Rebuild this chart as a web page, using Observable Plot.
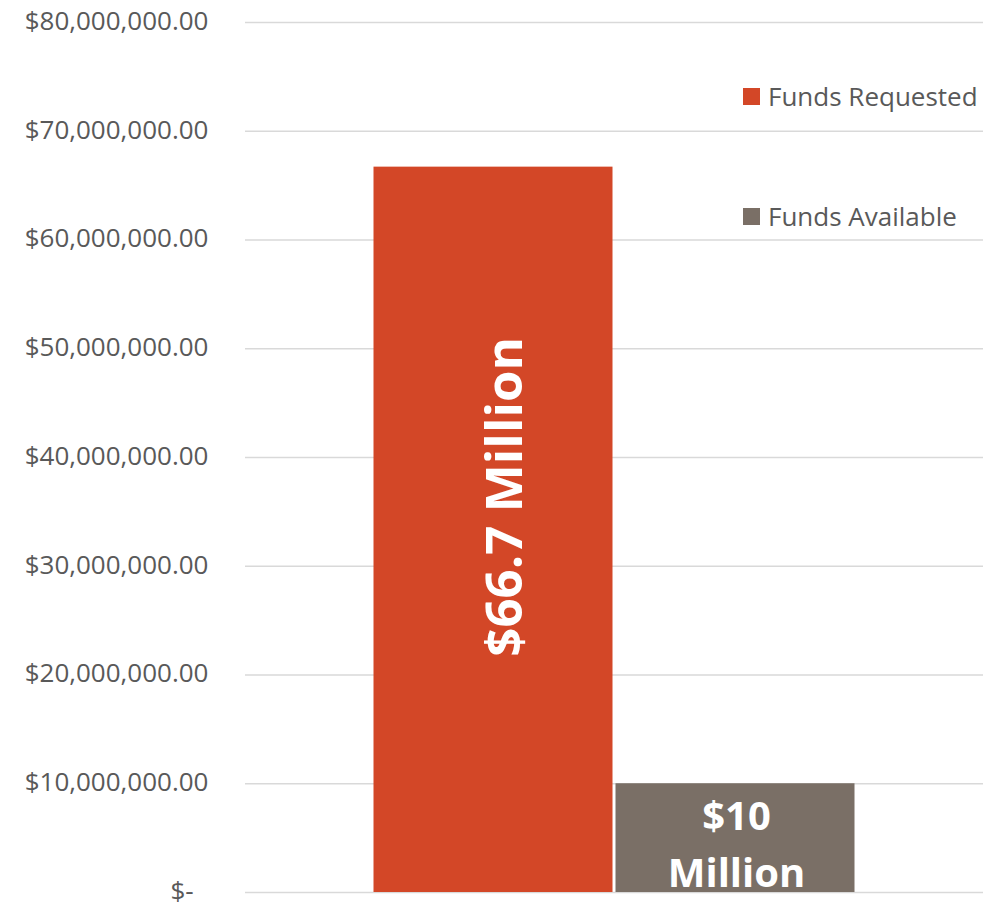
<!DOCTYPE html>
<html>
<head>
<meta charset="utf-8">
<script src="https://cdn.jsdelivr.net/npm/d3@7"></script>
<script src="https://cdn.jsdelivr.net/npm/@observablehq/plot@0.6"></script>
<style>
  html, body { margin: 0; padding: 0; background: #fff; }
  #wrap { position: relative; width: 1007px; height: 906px; font-family: "Open Sans", sans-serif; }
  .leg { position: absolute; left: 743px; display: flex; align-items: center; font-size: 26px; color: #595959; white-space: nowrap; }
  .leg i { display: inline-block; width: 17px; height: 17px; margin-right: 8px; }
</style>
</head>
<body>
<div id="wrap"></div>
<script>
const categories = ["Funds Requested", "Funds Available"];
const values = [66700000, 10000000];
const labels = ["$66.7 Million", "$10\nMillion"];
const colors = ["#D34727", "#7A6F66"];
const yTicks = [0, 10000000, 20000000, 30000000, 40000000, 50000000, 60000000, 70000000, 80000000];

const data = categories.map((c, i) => ({category: c, value: values[i], label: labels[i]}));

const fmt = v => v === 0 ? "$-\u2007" : "$" + d3.format(",.2f")(v);

const chart = Plot.plot({
  width: 1007,
  height: 906,
  marginLeft: 245,
  marginRight: 24,
  marginTop: 22,
  marginBottom: 14,
  style: {fontFamily: "Open Sans, sans-serif", background: "#fff", overflow: "visible"},
  x: {type: "band", domain: categories, range: [371, 856], padding: 0, axis: null},
  y: {domain: [0, 80000000], ticks: yTicks, label: null},
  color: {domain: categories, range: colors},
  marks: [
    Plot.ruleY(yTicks, {stroke: "#d9d9d9", strokeWidth: 1.6}),
    Plot.axisY({ticks: yTicks, tickFormat: fmt, tickSize: 0, tickPadding: 37, fontSize: 26, color: "#595959", label: null, dy: -1}),
    Plot.barY(data, {x: "category", y: "value", fill: "category", insetLeft: 1.5, insetRight: 1.5}),
    Plot.text(data.slice(0, 1), {x: "category", y: d => d.value / 2, text: "label", rotate: -90, fill: "white", fontSize: 51, fontWeight: "bold", dx: 12, dy: -33}),
    Plot.text(data.slice(1), {x: "category", y: d => d.value / 2, text: "label", fill: "white", fontSize: 40, fontWeight: "bold", lineHeight: 1.42, dx: 1, dy: 2})
  ]
});

const wrap = document.getElementById("wrap");
wrap.appendChild(chart);

const legTops = [78, 198];
categories.forEach((c, i) => {
  const d = document.createElement("div");
  d.className = "leg";
  d.style.top = legTops[i] + "px";
  const sw = document.createElement("i");
  sw.style.background = colors[i];
  d.appendChild(sw);
  d.appendChild(document.createTextNode(c));
  wrap.appendChild(d);
});
</script>
</body>
</html>
